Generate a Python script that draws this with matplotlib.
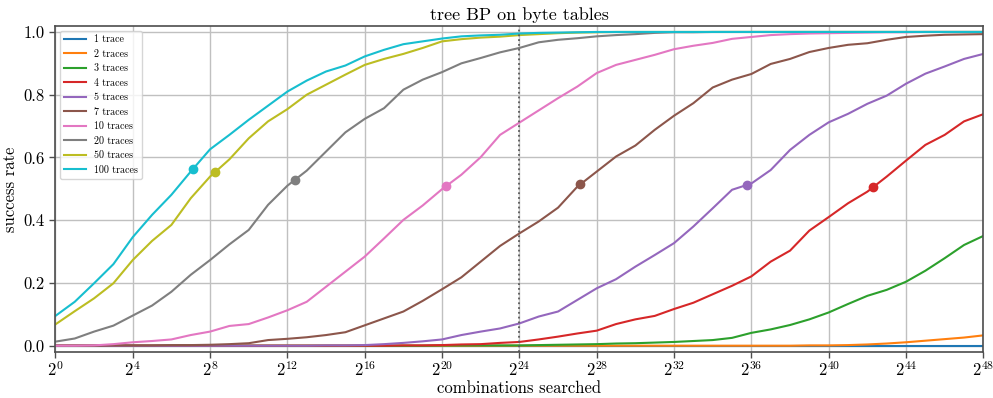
import numpy as np
import matplotlib
matplotlib.use('Agg')
import matplotlib.pyplot as plt

plt.rcParams['font.family'] = 'serif'
plt.rcParams['font.serif'] = ['cmr10', 'DejaVu Serif']
plt.rcParams['mathtext.fontset'] = 'cm'
plt.rcParams['axes.formatter.use_mathtext'] = True

# log2 de combinaciones buscadas (0 .. 48)
log_comb = list(range(49))

labels = ['1 trace', '2 traces', '3 traces', '4 traces', '5 traces',
          '7 traces', '10 traces', '20 traces', '50 traces', '100 traces']

t1 = [0.0] * 49
t2 = [0, 0, 0, 0, 0, 0, 0, 0, 0, 0,
      0, 0, 0, 0, 0, 0, 0, 0, 0, 0,
      0, 0, 0, 0, 0, 0, 0, 0, 0, 0,
      0, 0, 0, 0, 0, 0, 0, 0, 0.0, 0.001,
      0.001, 0.002, 0.004, 0.007, 0.011, 0.016, 0.021, 0.026, 0.033]
t3 = [0, 0, 0, 0, 0, 0, 0, 0, 0, 0,
      0, 0, 0, 0, 0, 0, 0, 0, 0, 0,
      0.001, 0.001, 0.001, 0.001, 0.001, 0.002, 0.003, 0.004, 0.005, 0.007,
      0.008, 0.010, 0.012, 0.015, 0.018, 0.025, 0.041, 0.052, 0.066, 0.084,
      0.106, 0.133, 0.159, 0.178, 0.204, 0.239, 0.279, 0.321, 0.350]
t4 = [0, 0, 0, 0, 0, 0, 0, 0, 0, 0,
      0, 0, 0, 0, 0, 0, 0, 0, 0.001, 0.001,
      0.002, 0.004, 0.005, 0.009, 0.012, 0.020, 0.029, 0.039, 0.048, 0.069,
      0.084, 0.095, 0.117, 0.137, 0.164, 0.191, 0.221, 0.268, 0.303, 0.367,
      0.410, 0.454, 0.491, 0.539, 0.590, 0.640, 0.672, 0.715, 0.738]
t5 = [0, 0, 0, 0, 0, 0, 0, 0, 0, 0,
      0, 0, 0, 0, 0.001, 0.001, 0.002, 0.005, 0.009, 0.014,
      0.020, 0.034, 0.045, 0.055, 0.071, 0.093, 0.109, 0.146, 0.183, 0.212,
      0.252, 0.289, 0.327, 0.380, 0.438, 0.497, 0.517, 0.560, 0.624, 0.672,
      0.712, 0.739, 0.771, 0.797, 0.835, 0.867, 0.890, 0.914, 0.930]
t7 = [0, 0, 0, 0.001, 0.001, 0.001, 0.002, 0.002, 0.003, 0.005,
      0.008, 0.018, 0.022, 0.027, 0.034, 0.043, 0.065, 0.087, 0.109, 0.143,
      0.180, 0.218, 0.268, 0.318, 0.358, 0.396, 0.440, 0.507, 0.555, 0.603,
      0.638, 0.688, 0.733, 0.773, 0.823, 0.848, 0.866, 0.898, 0.914, 0.936,
      0.949, 0.959, 0.964, 0.975, 0.984, 0.988, 0.991, 0.992, 0.993]
t10 = [0.0, 0.0, 0.001, 0.005, 0.011, 0.015, 0.020, 0.034, 0.045, 0.063,
       0.069, 0.090, 0.113, 0.140, 0.188, 0.236, 0.284, 0.342, 0.401, 0.447,
       0.499, 0.545, 0.601, 0.672, 0.711, 0.750, 0.789, 0.826, 0.869, 0.895,
       0.911, 0.927, 0.945, 0.956, 0.965, 0.978, 0.984, 0.990, 0.993, 0.995,
       0.996, 0.997, 0.998, 0.999, 0.999, 1.0, 1.0, 1.0, 1.0]
t20 = [0.013, 0.023, 0.045, 0.064, 0.096, 0.128, 0.172, 0.226, 0.273, 0.323,
       0.369, 0.449, 0.510, 0.558, 0.619, 0.680, 0.723, 0.757, 0.816, 0.848,
       0.872, 0.900, 0.917, 0.935, 0.949, 0.967, 0.975, 0.980, 0.986, 0.990,
       0.993, 0.997, 0.999, 0.999, 1.0, 1.0, 1.0, 1.0, 1.0, 1.0,
       1.0, 1.0, 1.0, 1.0, 1.0, 1.0, 1.0, 1.0, 1.0]
t50 = [0.068, 0.110, 0.151, 0.199, 0.273, 0.334, 0.385, 0.470, 0.539, 0.594,
       0.661, 0.715, 0.754, 0.800, 0.832, 0.864, 0.895, 0.914, 0.930, 0.949,
       0.970, 0.977, 0.982, 0.985, 0.990, 0.993, 0.996, 0.998, 0.999, 1.0,
       1.0, 1.0, 1.0, 1.0, 1.0, 1.0, 1.0, 1.0, 1.0, 1.0,
       1.0, 1.0, 1.0, 1.0, 1.0, 1.0, 1.0, 1.0, 1.0]
t100 = [0.095, 0.140, 0.199, 0.260, 0.346, 0.417, 0.481, 0.555, 0.626, 0.672,
        0.720, 0.765, 0.810, 0.845, 0.874, 0.893, 0.922, 0.943, 0.961, 0.970,
        0.979, 0.986, 0.989, 0.991, 0.995, 0.997, 0.998, 0.999, 1.0, 1.0,
        1.0, 1.0, 1.0, 1.0, 1.0, 1.0, 1.0, 1.0, 1.0, 1.0,
        1.0, 1.0, 1.0, 1.0, 1.0, 1.0, 1.0, 1.0, 1.0]

series = [t1, t2, t3, t4, t5, t7, t10, t20, t50, t100]

# punto marcado en cada curva (log2), None si no hay
mark_x = [None, None, None, 42.28, 35.78, 27.16, 20.19, 12.40, 8.26, 7.13]

line_24 = 24

fig, ax = plt.subplots(figsize=(9.93, 3.98), dpi=100)
fig.subplots_adjust(left=0.0558, right=0.9903, top=0.9355, bottom=0.1156)

for i, (lab, ys) in enumerate(zip(labels, series)):
    color = 'C%d' % i
    ax.plot(log_comb, ys, color=color, lw=1.5, label=lab)
    if mark_x[i] is not None:
        my = np.interp(mark_x[i], log_comb, ys)
        ax.plot(mark_x[i], my, 'o', color=color, ms=6)

ax.axvline(line_24, color='0.35', ls=':', lw=1.3)

ax.set_xlim(0, 48)
ax.set_ylim(-0.02, 1.02)
ax.set_xticks(range(0, 49, 4))
ax.set_xticklabels(['$2^{%d}$' % v for v in range(0, 49, 4)], fontsize=12)
ax.set_yticks([0.0, 0.2, 0.4, 0.6, 0.8, 1.0])
ax.set_yticklabels(['%.1f' % v for v in [0.0, 0.2, 0.4, 0.6, 0.8, 1.0]], fontsize=12)
ax.grid(True, color='#c0c0c0', lw=1.0)
for s in ax.spines.values():
    s.set_color('0.3')
    s.set_linewidth(1.2)
ax.tick_params(color='0.3', width=1.0, length=4)
ax.tick_params(axis='x', pad=2)

ax.set_xlabel('combinations searched', fontsize=12, labelpad=1)
ax.set_ylabel('success rate', fontsize=12)
ax.set_title('tree BP on byte tables', fontsize=13, pad=4)
ax.legend(loc='upper left', fontsize=7.2, handlelength=2.2, framealpha=0.8)

fig.savefig('out.png', dpi=100)
